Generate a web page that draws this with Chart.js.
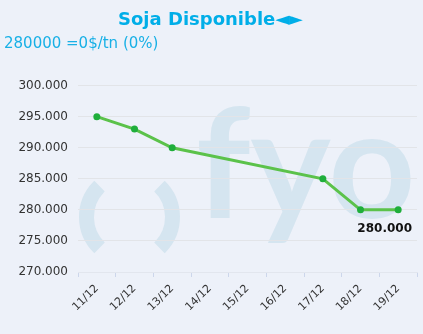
<!DOCTYPE html>
<html>
<head>
<meta charset="utf-8">
<script src="https://cdn.jsdelivr.net/npm/chart.js@4"></script>
<style>
  html, body { margin: 0; padding: 0; background: #edf1f9; }
  #wrap { width: 423px; height: 334px; }
</style>
</head>
<body>
<div id="wrap"><canvas id="grafico" width="423" height="334"></canvas></div>
<script>
const fechas = ['11/12', '12/12', '13/12', '14/12', '15/12', '16/12', '17/12', '18/12', '19/12'];
const precios = [295000, 293000, 290000, null, null, null, 285000, 280000, 280000];
const ejeY = { min: 270000, max: 300000, paso: 5000 };
const titulo = 'Soja Disponible\u25C4\u25BA';
const subtitulo = '280000 =0$/tn (0%)';

const fmt = v => String(Math.round(v)).replace(/\B(?=(\d{3})+(?!\d))/g, '.');

// fondo + marca de agua "( )fyo"
const fondo = {
  id: 'fondo',
  beforeDraw(chart) {
    const ctx = chart.ctx;
    ctx.save();
    ctx.fillStyle = '#edf1f9';
    ctx.fillRect(0, 0, chart.width, chart.height);
    ctx.fillStyle = '#d5e5f0';
    ctx.strokeStyle = '#d5e5f0';
    ctx.font = 'bold 152px Lato';
    ctx.textBaseline = 'alphabetic';
    ctx.fillText('fyo', 196, 218);
    ctx.lineWidth = 15;
    ctx.beginPath();
    ctx.arc(129.5, 217, 43, Math.PI - 0.8, Math.PI + 0.8);
    ctx.stroke();
    ctx.beginPath();
    ctx.arc(129.5, 217, 43, -0.8, 0.8);
    ctx.stroke();
    ctx.restore();
  }
};

// etiqueta del último valor
const etiqueta = {
  id: 'etiqueta',
  afterDatasetsDraw(chart) {
    const meta = chart.getDatasetMeta(0);
    const i = precios.length - 1;
    const pt = meta.data[i];
    const ctx = chart.ctx;
    ctx.save();
    ctx.font = 'bold 12px "DejaVu Sans"';
    ctx.fillStyle = '#111';
    ctx.textAlign = 'right';
    ctx.textBaseline = 'alphabetic';
    const txt = fmt(precios[i]);
    const w = ctx.measureText(txt).width;
    const x = Math.min(pt.x + w / 2, chart.chartArea.right - 5);
    ctx.fillText(txt, x, pt.y + 22);
    ctx.restore();
  }
};

new Chart(document.getElementById('grafico'), {
  type: 'line',
  data: {
    labels: fechas,
    datasets: [{
      data: precios,
      borderColor: '#5bc24a',
      borderWidth: 3,
      backgroundColor: '#1fae3b',
      pointBackgroundColor: '#1fae3b',
      pointBorderColor: '#1fae3b',
      pointRadius: 3.5,
      pointBorderWidth: 0,
      tension: 0,
      spanGaps: true
    }]
  },
  options: {
    responsive: false,
    animation: false,
    layout: { padding: { left: 4, right: 6, top: 0, bottom: 0 } },
    plugins: {
      legend: { display: false },
      tooltip: { enabled: false },
      title: {
        display: true,
        text: titulo,
        color: '#00aee8',
        font: { family: 'DejaVu Sans', size: 18, weight: 'bold' },
        padding: { top: 10, bottom: 1 }
      },
      subtitle: {
        display: true,
        text: subtitulo,
        align: 'start',
        color: '#18b0e6',
        font: { family: 'DejaVu Sans', size: 15, weight: 'normal' },
        padding: { top: 3, bottom: 32 }
      }
    },
    scales: {
      x: {
        offset: true,
        grid: { display: true, drawOnChartArea: false, offset: true, color: '#ccd6eb', tickLength: 5 },
        border: { display: true, color: '#e2e6ee' },
        ticks: {
          color: '#333',
          font: { family: 'DejaVu Sans', size: 11 },
          minRotation: 45,
          maxRotation: 45,
          padding: 5,
          autoSkip: false
        },
        afterFit: s => { s.height = 62; }
      },
      y: {
        min: ejeY.min,
        max: ejeY.max,
        grid: { color: '#e2e4e8', drawTicks: false },
        border: { display: false },
        ticks: {
          stepSize: ejeY.paso,
          color: '#333',
          padding: 10,
          font: { family: 'DejaVu Sans', size: 12 },
          callback: v => fmt(v)
        },
        afterFit: s => { s.width = 74; }
      }
    }
  },
  plugins: [fondo, etiqueta]
});
</script>
</body>
</html>
